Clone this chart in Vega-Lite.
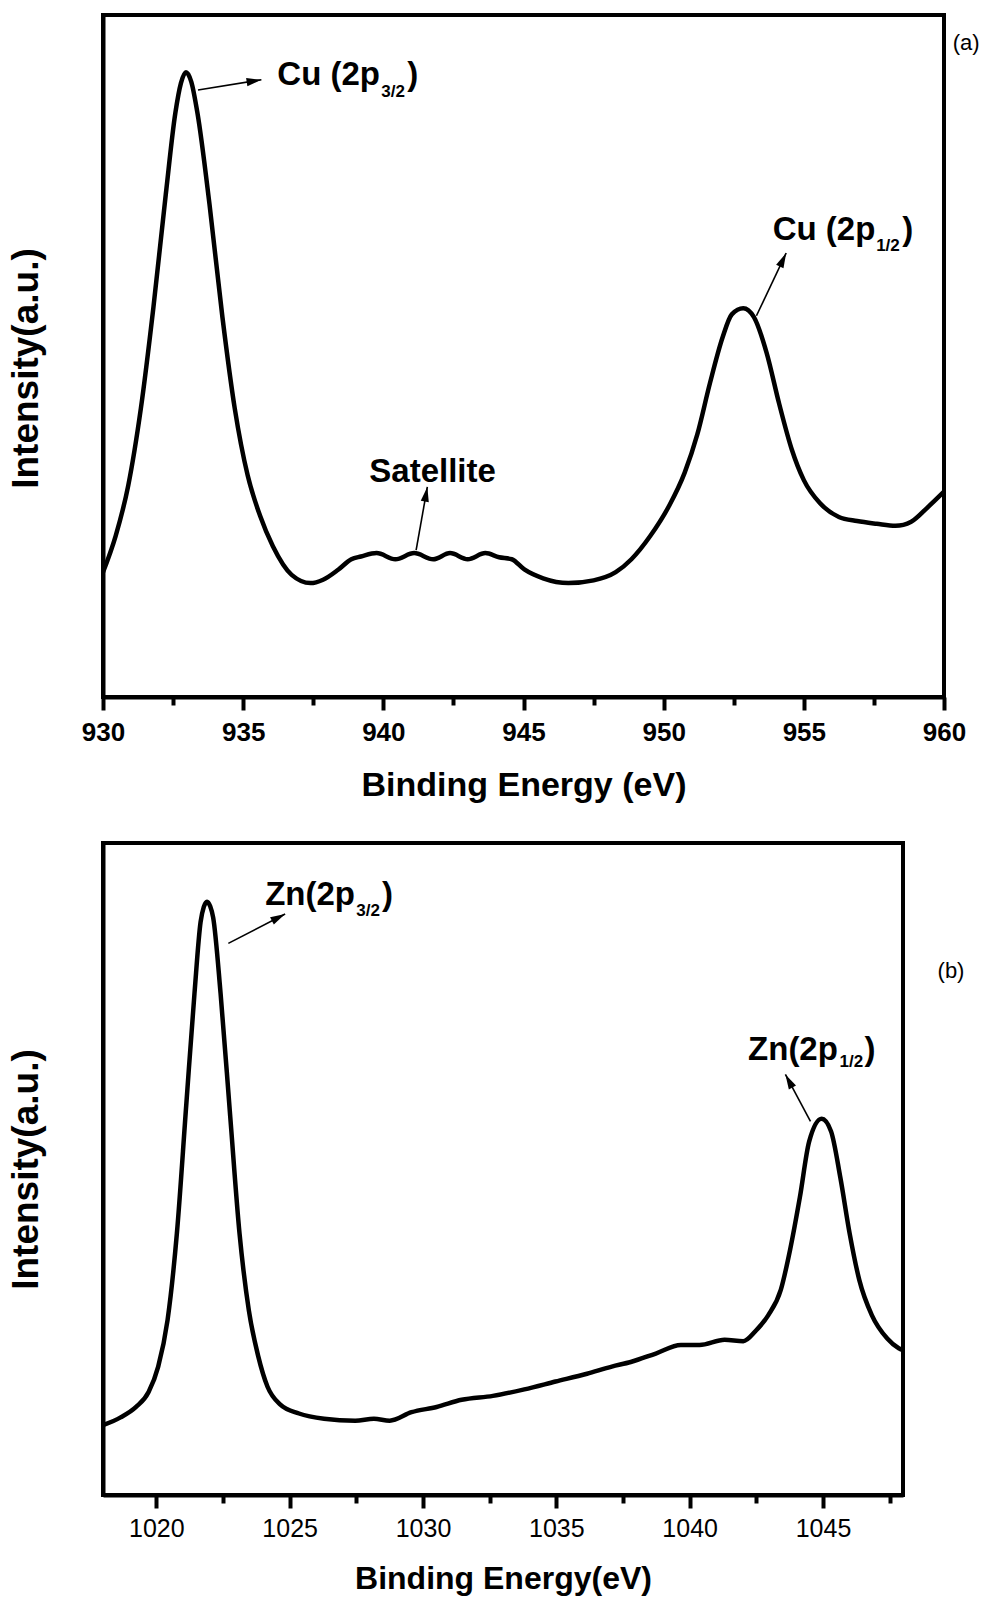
{
  "$schema": "https://vega.github.io/schema/vega-lite/v6.json",
  "background": "white",
  "padding": {"left": 5, "top": 13, "right": 0, "bottom": 0},
  "spacing": 37,
  "config": {
    "font": "Liberation Sans",
    "view": {"stroke": "black", "strokeWidth": 4},
    "axis": {"grid": false, "domainColor": "black", "domainWidth": 4, "tickColor": "black", "tickWidth": 4, "labelColor": "black", "titleColor": "black", "labelOverlap": false, "labelFlush": false}
  },
  "datasets": {
    "cu": [
      {"energy": 930, "intensity": 18.3}, {"energy": 930.45, "intensity": 23.6}, {"energy": 930.9, "intensity": 31}, {"energy": 931.35, "intensity": 42.3},
      {"energy": 931.8, "intensity": 57.2}, {"energy": 932.24, "intensity": 73.7}, {"energy": 932.58, "intensity": 85.6}, {"energy": 932.78, "intensity": 90.0},
      {"energy": 932.96, "intensity": 91.6}, {"energy": 933.15, "intensity": 90.2}, {"energy": 933.37, "intensity": 85.6}, {"energy": 933.8, "intensity": 72.2},
      {"energy": 934.26, "intensity": 55.7}, {"energy": 934.7, "intensity": 42.3}, {"energy": 935.16, "intensity": 32.5}, {"energy": 935.6, "intensity": 26.6},
      {"energy": 936.06, "intensity": 22.1}, {"energy": 936.73, "intensity": 17.9}, {"energy": 937.4, "intensity": 16.7}, {"energy": 937.85, "intensity": 17.2},
      {"energy": 938.4, "intensity": 18.7}, {"energy": 938.86, "intensity": 20.2}, {"energy": 939.2, "intensity": 20.6}, {"energy": 939.76, "intensity": 21.1},
      {"energy": 940.43, "intensity": 20.2}, {"energy": 941.1, "intensity": 21.1}, {"energy": 941.78, "intensity": 20.2}, {"energy": 942.38, "intensity": 21.1},
      {"energy": 943.01, "intensity": 20.2}, {"energy": 943.64, "intensity": 21.1}, {"energy": 944.13, "intensity": 20.5}, {"energy": 944.58, "intensity": 20.2},
      {"energy": 945.03, "intensity": 18.7}, {"energy": 945.7, "intensity": 17.4}, {"energy": 946.6, "intensity": 16.7}, {"energy": 947.5, "intensity": 17.1},
      {"energy": 948.29, "intensity": 18.3}, {"energy": 948.85, "intensity": 20.2}, {"energy": 949.52, "intensity": 23.6}, {"energy": 950.19, "intensity": 28},
      {"energy": 950.75, "intensity": 32.9}, {"energy": 951.2, "intensity": 38.5}, {"energy": 951.65, "intensity": 46}, {"energy": 952.1, "intensity": 52.7},
      {"energy": 952.43, "intensity": 56.1}, {"energy": 952.84, "intensity": 57}, {"energy": 953.22, "intensity": 55.7}, {"energy": 953.67, "intensity": 50.5},
      {"energy": 954.12, "intensity": 43}, {"energy": 954.57, "intensity": 36.3}, {"energy": 955.0, "intensity": 31.8}, {"energy": 955.58, "intensity": 28.4},
      {"energy": 956.25, "intensity": 26.4}, {"energy": 956.9, "intensity": 25.8}, {"energy": 957.6, "intensity": 25.4}, {"energy": 958.27, "intensity": 25.1},
      {"energy": 958.83, "intensity": 25.7}, {"energy": 959.39, "intensity": 27.7}, {"energy": 960, "intensity": 30.1}
    ],
    "zn": [
      {"energy": 1018, "intensity": 10.7}, {"energy": 1018.66, "intensity": 11.9}, {"energy": 1019.24, "intensity": 13.5}, {"energy": 1019.71, "intensity": 15.8},
      {"energy": 1020.07, "intensity": 19.7}, {"energy": 1020.42, "intensity": 26.8}, {"energy": 1020.77, "intensity": 40.1}, {"energy": 1021.12, "intensity": 59.7},
      {"energy": 1021.43, "intensity": 76.9}, {"energy": 1021.66, "intensity": 87.9}, {"energy": 1021.78, "intensity": 90.2}, {"energy": 1021.9, "intensity": 91.0},
      {"energy": 1022.02, "intensity": 90.3}, {"energy": 1022.13, "intensity": 88.6}, {"energy": 1022.41, "intensity": 76.9}, {"energy": 1022.77, "intensity": 58.1},
      {"energy": 1023.12, "intensity": 40.1}, {"energy": 1023.47, "intensity": 28.3}, {"energy": 1023.82, "intensity": 21.3}, {"energy": 1024.17, "intensity": 16.6},
      {"energy": 1024.64, "intensity": 13.9}, {"energy": 1025.35, "intensity": 12.5}, {"energy": 1026.29, "intensity": 11.7}, {"energy": 1027.46, "intensity": 11.4},
      {"energy": 1028.16, "intensity": 11.7}, {"energy": 1028.75, "intensity": 11.4}, {"energy": 1029.57, "intensity": 12.7}, {"energy": 1030.51, "intensity": 13.5},
      {"energy": 1031.45, "intensity": 14.6}, {"energy": 1032.62, "intensity": 15.2}, {"energy": 1033.8, "intensity": 16.2}, {"energy": 1034.97, "intensity": 17.4},
      {"energy": 1036.15, "intensity": 18.6}, {"energy": 1037.08, "intensity": 19.7}, {"energy": 1037.79, "intensity": 20.4}, {"energy": 1038.73, "intensity": 21.7},
      {"energy": 1039.67, "intensity": 23.0}, {"energy": 1040.37, "intensity": 23.0}, {"energy": 1041.31, "intensity": 23.8}, {"energy": 1042.01, "intensity": 23.6},
      {"energy": 1042.48, "intensity": 25.2}, {"energy": 1042.95, "intensity": 27.6}, {"energy": 1043.42, "intensity": 31.5}, {"energy": 1043.77, "intensity": 37.7},
      {"energy": 1044.13, "intensity": 45.6}, {"energy": 1044.48, "intensity": 54.2}, {"energy": 1044.95, "intensity": 57.7}, {"energy": 1045.3, "intensity": 55.8},
      {"energy": 1045.65, "intensity": 48.7}, {"energy": 1046.0, "intensity": 40.1}, {"energy": 1046.36, "intensity": 33.0}, {"energy": 1046.83, "intensity": 27.6},
      {"energy": 1047.41, "intensity": 24.0}, {"energy": 1047.84, "intensity": 22.5}, {"energy": 1048, "intensity": 22.2}
    ],
    "labels_a": [
      {"x": 936.22, "y": 89.7, "text": "Cu (2p", "part": "main"},
      {"x": 939.93, "y": 88.0, "text": "3/2", "part": "sub"},
      {"x": 940.85, "y": 89.7, "text": ")", "part": "main"},
      {"x": 953.89, "y": 67.0, "text": "Cu (2p", "part": "main"},
      {"x": 957.58, "y": 65.4, "text": "1/2", "part": "sub"},
      {"x": 958.51, "y": 67.0, "text": ")", "part": "main"},
      {"x": 939.5, "y": 31.5, "text": "Satellite", "part": "main"},
      {"x": 960.79, "y": 95.9, "text": "(a)", "part": "tag"}
    ],
    "arrows_a": [
      {"name": "a1", "x": 933.39, "y": 89.0, "x2": 935.65, "y2": 90.5},
      {"name": "a2", "x": 953.31, "y": 55.9, "x2": 954.37, "y2": 65.1},
      {"name": "a3", "x": 941.17, "y": 21.55, "x2": 941.57, "y2": 30.8}
    ],
    "labels_b": [
      {"x": 1024.08, "y": 90.5, "text": "Zn(2p", "part": "main"},
      {"x": 1027.5, "y": 88.8, "text": "3/2", "part": "sub"},
      {"x": 1028.46, "y": 90.5, "text": ")", "part": "main"},
      {"x": 1042.19, "y": 66.7, "text": "Zn(2p", "part": "main"},
      {"x": 1045.62, "y": 65.6, "text": "1/2", "part": "sub"},
      {"x": 1046.56, "y": 66.7, "text": ")", "part": "main"},
      {"x": 1049.8, "y": 80.4, "text": "(b)", "part": "tag"}
    ],
    "arrows_b": [
      {"name": "b1", "x": 1022.7, "y": 84.6, "x2": 1024.83, "y2": 89.1},
      {"name": "b2", "x": 1044.53, "y": 57.3, "x2": 1043.59, "y2": 64.5}
    ]
  },
  "vconcat": [
    {
      "width": 841,
      "height": 682,
      "layer": [
        {
          "data": {"name": "cu"},
          "mark": {"type": "line", "color": "black", "strokeWidth": 4.5, "interpolate": "monotone", "clip": true},
          "encoding": {
            "x": {"field": "energy", "type": "quantitative",
              "scale": {"domain": [930, 960], "nice": false, "zero": false},
              "axis": {"title": "Binding Energy (eV)", "format": "d",
                "values": [930, 932.5, 935, 937.5, 940, 942.5, 945, 947.5, 950, 952.5, 955, 957.5, 960],
                "labelExpr": "datum.value % 5 === 0 ? datum.label : ''",
                "tickSize": {"condition": {"test": "datum.value % 5 !== 0", "value": 8}, "value": 13},
                "labelFontWeight": "bold", "labelFontSize": 26, "labelPadding": 9,
                "titleFontSize": 34, "titleFontWeight": "bold", "titlePadding": 23}},
            "y": {"field": "intensity", "type": "quantitative",
              "scale": {"domain": [0, 100], "nice": false},
              "axis": {"title": "Intensity(a.u.)", "labels": false, "ticks": false,
                "titleFontSize": 37, "titleFontWeight": "bold", "titlePadding": 58, "titleY": 353}}
          }
        },
        {
          "data": {"name": "arrows_a"},
          "mark": {"type": "rule", "color": "black", "strokeWidth": 1.6},
          "encoding": {
            "x": {"field": "x", "type": "quantitative"},
            "y": {"field": "y", "type": "quantitative"},
            "x2": {"field": "x2"},
            "y2": {"field": "y2"}
          }
        },
        {
          "data": {"name": "arrows_a"},
          "transform": [{"filter": "datum.name === 'a1'"}],
          "mark": {"type": "point", "shape": "M0,0L-2,-0.55L-2,0.55Z", "filled": true, "color": "black", "opacity": 1, "size": 220, "angle": -9},
          "encoding": {"x": {"field": "x2", "type": "quantitative"}, "y": {"field": "y2", "type": "quantitative"}}
        },
        {
          "data": {"name": "arrows_a"},
          "transform": [{"filter": "datum.name === 'a2'"}],
          "mark": {"type": "point", "shape": "M0,0L-2,-0.55L-2,0.55Z", "filled": true, "color": "black", "opacity": 1, "size": 220, "angle": -64.5},
          "encoding": {"x": {"field": "x2", "type": "quantitative"}, "y": {"field": "y2", "type": "quantitative"}}
        },
        {
          "data": {"name": "arrows_a"},
          "transform": [{"filter": "datum.name === 'a3'"}],
          "mark": {"type": "point", "shape": "M0,0L-2,-0.55L-2,0.55Z", "filled": true, "color": "black", "opacity": 1, "size": 220, "angle": -80},
          "encoding": {"x": {"field": "x2", "type": "quantitative"}, "y": {"field": "y2", "type": "quantitative"}}
        },
        {
          "data": {"name": "labels_a"},
          "transform": [{"filter": "datum.part === 'main'"}],
          "mark": {"type": "text", "align": "left", "baseline": "alphabetic", "fontSize": 33, "fontWeight": "bold", "color": "black"},
          "encoding": {"x": {"field": "x", "type": "quantitative"}, "y": {"field": "y", "type": "quantitative"}, "text": {"field": "text"}}
        },
        {
          "data": {"name": "labels_a"},
          "transform": [{"filter": "datum.part === 'sub'"}],
          "mark": {"type": "text", "align": "left", "baseline": "alphabetic", "fontSize": 17, "fontWeight": "bold", "color": "black"},
          "encoding": {"x": {"field": "x", "type": "quantitative"}, "y": {"field": "y", "type": "quantitative"}, "text": {"field": "text"}}
        },
        {
          "data": {"name": "labels_a"},
          "transform": [{"filter": "datum.part === 'tag'"}],
          "mark": {"type": "text", "align": "center", "baseline": "middle", "fontSize": 22, "color": "black"},
          "encoding": {"x": {"field": "x", "type": "quantitative"}, "y": {"field": "y", "type": "quantitative"}, "text": {"field": "text"}}
        }
      ]
    },
    {
      "width": 800,
      "height": 652,
      "layer": [
        {
          "data": {"name": "zn"},
          "mark": {"type": "line", "color": "black", "strokeWidth": 4.5, "interpolate": "monotone", "clip": true},
          "encoding": {
            "x": {"field": "energy", "type": "quantitative",
              "scale": {"domain": [1018, 1048], "nice": false, "zero": false},
              "axis": {"title": "Binding Energy(eV)", "format": "d",
                "values": [1020, 1022.5, 1025, 1027.5, 1030, 1032.5, 1035, 1037.5, 1040, 1042.5, 1045, 1047.5],
                "labelExpr": "datum.value % 5 === 0 ? datum.label : ''",
                "tickSize": {"condition": {"test": "datum.value % 5 !== 0", "value": 8}, "value": 13},
                "labelFontWeight": "normal", "labelFontSize": 25, "labelPadding": 8,
                "titleFontSize": 32, "titleFontWeight": "bold", "titlePadding": 22}},
            "y": {"field": "intensity", "type": "quantitative",
              "scale": {"domain": [0, 100], "nice": false},
              "axis": {"title": "Intensity(a.u.)", "labels": false, "ticks": false,
                "titleFontSize": 37, "titleFontWeight": "bold", "titlePadding": 58}}
          }
        },
        {
          "data": {"name": "arrows_b"},
          "mark": {"type": "rule", "color": "black", "strokeWidth": 1.6},
          "encoding": {
            "x": {"field": "x", "type": "quantitative"},
            "y": {"field": "y", "type": "quantitative"},
            "x2": {"field": "x2"},
            "y2": {"field": "y2"}
          }
        },
        {
          "data": {"name": "arrows_b"},
          "transform": [{"filter": "datum.name === 'b1'"}],
          "mark": {"type": "point", "shape": "M0,0L-2,-0.55L-2,0.55Z", "filled": true, "color": "black", "opacity": 1, "size": 220, "angle": -27.3},
          "encoding": {"x": {"field": "x2", "type": "quantitative"}, "y": {"field": "y2", "type": "quantitative"}}
        },
        {
          "data": {"name": "arrows_b"},
          "transform": [{"filter": "datum.name === 'b2'"}],
          "mark": {"type": "point", "shape": "M0,0L-2,-0.55L-2,0.55Z", "filled": true, "color": "black", "opacity": 1, "size": 220, "angle": -118.3},
          "encoding": {"x": {"field": "x2", "type": "quantitative"}, "y": {"field": "y2", "type": "quantitative"}}
        },
        {
          "data": {"name": "labels_b"},
          "transform": [{"filter": "datum.part === 'main'"}],
          "mark": {"type": "text", "align": "left", "baseline": "alphabetic", "fontSize": 33, "fontWeight": "bold", "color": "black"},
          "encoding": {"x": {"field": "x", "type": "quantitative"}, "y": {"field": "y", "type": "quantitative"}, "text": {"field": "text"}}
        },
        {
          "data": {"name": "labels_b"},
          "transform": [{"filter": "datum.part === 'sub'"}],
          "mark": {"type": "text", "align": "left", "baseline": "alphabetic", "fontSize": 17, "fontWeight": "bold", "color": "black"},
          "encoding": {"x": {"field": "x", "type": "quantitative"}, "y": {"field": "y", "type": "quantitative"}, "text": {"field": "text"}}
        },
        {
          "data": {"name": "labels_b"},
          "transform": [{"filter": "datum.part === 'tag'"}],
          "mark": {"type": "text", "align": "center", "baseline": "middle", "fontSize": 22, "color": "black"},
          "encoding": {"x": {"field": "x", "type": "quantitative"}, "y": {"field": "y", "type": "quantitative"}, "text": {"field": "text"}}
        }
      ]
    }
  ]
}
